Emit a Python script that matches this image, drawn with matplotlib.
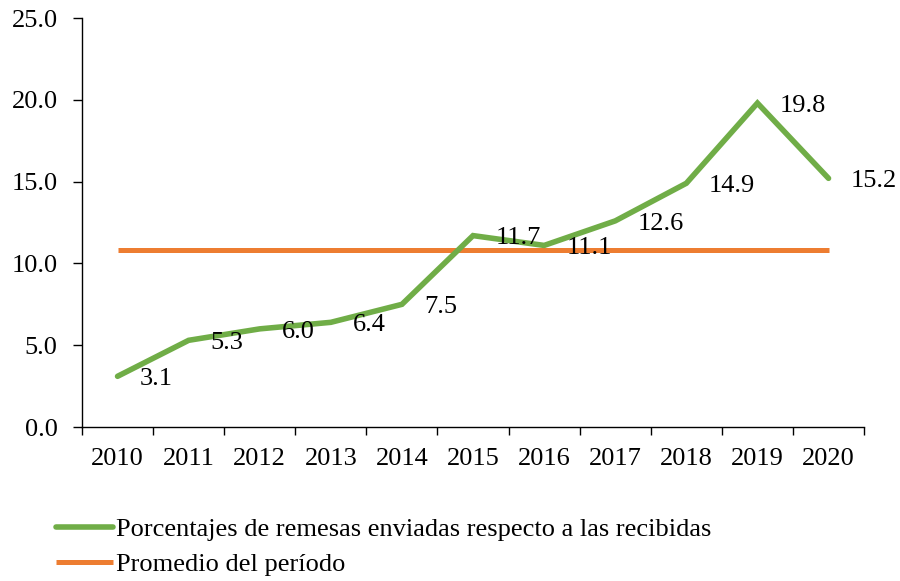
import matplotlib
matplotlib.use("Agg")
import matplotlib.pyplot as plt

years = ["2010", "2011", "2012", "2013", "2014", "2015", "2016", "2017", "2018", "2019", "2020"]
remesas = [3.1, 5.3, 6.0, 6.4, 7.5, 11.7, 11.1, 12.6, 14.9, 19.8, 15.2]
promedio = [10.8] * len(years)
y_ticks = [0, 5, 10, 15, 20, 25]

plt.rcParams['font.family'] = ['Liberation Serif', 'DejaVu Serif']
FS = 19

fig = plt.figure(figsize=(9, 5.81), dpi=100)
ax = fig.add_axes([0.0911, 0.265, 0.869, 0.704])

x = list(range(len(years)))
l1, = ax.plot(x, remesas, color='#70AD47', lw=4.0, solid_capstyle='round', solid_joinstyle='miter',
              label='Porcentajes de remesas enviadas respecto a las recibidas', zorder=3)
l2, = ax.plot(x, promedio, color='#ED7D31', lw=3.6, solid_capstyle='butt',
              label='Promedio del período', zorder=2)

for xi, v in zip(x, remesas):
    ax.annotate(f"{v:.1f}", (xi, v), xytext=(16, -2), textcoords='offset points',
                ha='left', va='center', fontsize=FS, zorder=4)

ax.set_xlim(-0.5, len(years) - 0.5)
ax.set_ylim(0, 25)
ax.set_yticks(y_ticks)
ax.set_yticklabels([f"{t:.1f}" for t in y_ticks], fontsize=FS)
ax.set_xticks(x)
ax.set_xticklabels(years, fontsize=FS)
ax.tick_params(axis='x', which='major', length=0, pad=15)
ax.set_xticks([i - 0.5 for i in range(len(years) + 1)], minor=True)
ax.tick_params(axis='x', which='minor', length=5.5, width=1)
ax.tick_params(axis='y', length=6.5, width=1, pad=11)
for s in ['top', 'right']:
    ax.spines[s].set_visible(False)
for s in ['left', 'bottom']:
    ax.spines[s].set_linewidth(1)

fig.legend(handles=[l1, l2], loc='center left', bbox_to_anchor=(0.062, 0.0585),
           frameon=False, fontsize=FS, handlelength=2.15, handletextpad=0.12,
           labelspacing=0.45, borderaxespad=0, borderpad=0)

fig.savefig("out.png", dpi=100)
